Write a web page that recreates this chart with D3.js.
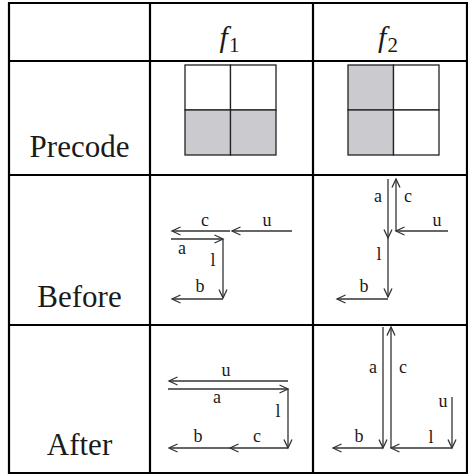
<!DOCTYPE html>
<html>
<head>
<meta charset="utf-8">
<script src="https://cdn.jsdelivr.net/npm/d3@7"></script>
</head>
<body style="margin:0; background:#fff">
<svg id="viz" font-family="Liberation Serif"></svg>
<script>
// table layout values
let colNames = ['', 'f1', 'f2'];
let rowNames = ['', 'Precode', 'Before', 'After'];
let colEdges = [9, 150, 313, 467];
let rowEdges = [3, 61, 175, 325, 473];

// precode 2x2 patterns: 1 = shaded (row-major: TL, TR, BL, BR)
let precodeF1 = [0, 0, 1, 1];
let precodeF2 = [1, 0, 1, 0];

// arrows per cell, in cell-local units: [x1, y1, x2, y2, label, lx, ly]
let beforeF1 = [
  [80, 56, 22, 56, 'c', 55, 51],
  [142, 56, 82, 56, 'u', 117, 51],
  [21, 64, 73, 64, 'a', 32, 79],
  [73, 64, 73, 123, 'l', 63, 91],
  [73, 124, 22, 124, 'b', 50, 117]
];
let beforeF2 = [
  [75, 4, 75, 63, 'a', 65, 27],
  [83, 56, 83, 4, 'c', 95, 27],
  [135, 56, 83, 56, 'u', 124, 51],
  [75, 63, 75, 122, 'l', 66, 85],
  [75, 124, 24, 124, 'b', 51, 117]
];
let afterF1 = [
  [138, 56, 19, 56, 'u', 76, 51],
  [18, 64, 138, 64, 'a', 67, 78],
  [138, 64, 138, 123, 'l', 128, 92],
  [138, 123, 80, 123, 'c', 107, 117],
  [80, 123, 19, 123, 'b', 48, 117]
];
let afterF2 = [
  [70, 2, 70, 123, 'a', 60, 48],
  [78, 123, 78, 2, 'c', 90, 48],
  [139, 72, 139, 123, 'u', 130, 82],
  [139, 123, 78, 123, 'l', 118, 118],
  [70, 123, 20, 123, 'b', 46, 117]
];

let W = 468, H = 475;
let svg = d3.select('#viz').attr('width', W).attr('height', H);

let ink = '#1a1a1a';

// grid lines of the table
let table = svg.append('g');
table.selectAll('line.h').data(rowEdges).enter().append('line')
  .attr('x1', colEdges[0] - 1).attr('x2', colEdges[3] + 1)
  .attr('y1', d => d).attr('y2', d => d)
  .attr('stroke', '#000').attr('stroke-width', 2.2);
table.selectAll('line.v').data(colEdges).enter().append('line')
  .attr('y1', rowEdges[0] - 1).attr('y2', rowEdges[4] + 1)
  .attr('x1', d => d).attr('x2', d => d)
  .attr('stroke', '#000').attr('stroke-width', 2.2);

// column headers f1, f2
colNames.forEach((n, i) => {
  if (!n) return;
  let cx = (colEdges[i] + colEdges[i + 1]) / 2 - 2;
  let t = svg.append('text')
    .attr('x', cx).attr('y', rowEdges[1] - 14)
    .attr('text-anchor', 'middle').attr('fill', ink)
    .attr('font-family', 'Liberation Serif');
  t.append('tspan').attr('font-style', 'italic').attr('font-size', 30).text(n[0]);
  t.append('tspan').attr('font-size', 21).attr('dy', 5).attr('dx', 1).text(n.slice(1));
});

// row labels
rowNames.forEach((n, i) => {
  if (!n) return;
  svg.append('text')
    .attr('x', (colEdges[0] + colEdges[1]) / 2)
    .attr('y', rowEdges[i + 1] - 18)
    .attr('text-anchor', 'middle')
    .attr('font-size', 31)
    .attr('fill', ink)
    .attr('font-family', 'Liberation Serif')
    .text(n);
});

// precode squares
let drawPrecode = (col, cells) => {
  let x = d3.scaleBand().domain([0, 1]).range([colEdges[col] + 35, colEdges[col] + 126]);
  let y = d3.scaleBand().domain([0, 1]).range([rowEdges[1] + 4, rowEdges[1] + 94]);
  svg.append('g').selectAll('rect').data(cells).enter().append('rect')
    .attr('x', (d, i) => x(i % 2))
    .attr('y', (d, i) => y(Math.floor(i / 2)))
    .attr('width', x.bandwidth())
    .attr('height', y.bandwidth())
    .attr('fill', d => d ? '#cbcacf' : '#fff')
    .attr('stroke', '#222')
    .attr('stroke-width', 1.3);
};
drawPrecode(1, precodeF1);
drawPrecode(2, precodeF2);

// arrow diagrams
let drawArrows = (col, row, arrows) => {
  let x = d3.scaleLinear().domain([0, 1]).range([colEdges[col], colEdges[col] + 1]);
  let y = d3.scaleLinear().domain([0, 1]).range([rowEdges[row], rowEdges[row] + 1]);
  let g = svg.append('g');
  arrows.forEach(a => {
    let x1 = x(a[0]), y1 = y(a[1]), x2 = x(a[2]), y2 = y(a[3]);
    g.append('line')
      .attr('x1', x1).attr('y1', y1).attr('x2', x2).attr('y2', y2)
      .attr('stroke', '#333').attr('stroke-width', 1.3);
    // open chevron head
    let ang = Math.atan2(y2 - y1, x2 - x1);
    let len = 8.5, half = 4;
    let bx = x2 - len * Math.cos(ang), by = y2 - len * Math.sin(ang);
    let px = -Math.sin(ang) * half, py = Math.cos(ang) * half;
    g.append('path')
      .attr('d', 'M' + (bx + px) + ' ' + (by + py) + 'L' + x2 + ' ' + y2 + 'L' + (bx - px) + ' ' + (by - py))
      .attr('fill', 'none').attr('stroke', '#333').attr('stroke-width', 1.3);
    g.append('text')
      .attr('x', x(a[5])).attr('y', y(a[6]))
      .attr('text-anchor', 'middle')
      .attr('font-size', 18)
      .attr('fill', ink)
      .attr('font-family', 'Liberation Serif')
      .text(a[4]);
  });
};
drawArrows(1, 2, beforeF1);
drawArrows(2, 2, beforeF2);
drawArrows(1, 3, afterF1);
drawArrows(2, 3, afterF2);
</script>
</body>
</html>
